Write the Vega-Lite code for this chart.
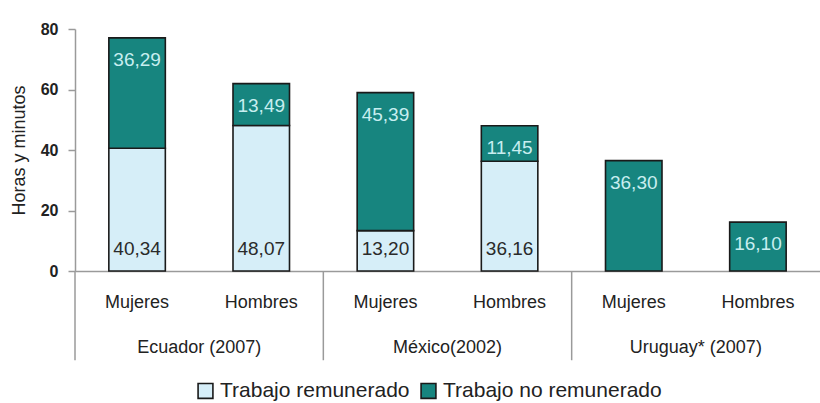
{
  "$schema": "https://vega.github.io/schema/vega-lite/v6.json",
  "width": 745,
  "height": 242,
  "autosize": {"type": "none"},
  "padding": {"left": 75, "top": 29, "right": 0, "bottom": 132},
  "background": "#ffffff",
  "config": {
    "view": {"stroke": null},
    "font": "Liberation Sans",
    "text": {"font": "Liberation Sans"}
  },
  "datasets": {
    "barras": [
      {"pais": "Ecuador (2007)", "sexo": "Mujeres", "barra": "Ecuador (2007)|Mujeres", "tipo": "Trabajo remunerado", "orden": 1, "horas": 40.567, "etiqueta": "40,34"},
      {"pais": "Ecuador (2007)", "sexo": "Mujeres", "barra": "Ecuador (2007)|Mujeres", "tipo": "Trabajo no remunerado", "orden": 2, "horas": 36.483, "etiqueta": "36,29"},
      {"pais": "Ecuador (2007)", "sexo": "Hombres", "barra": "Ecuador (2007)|Hombres", "tipo": "Trabajo remunerado", "orden": 1, "horas": 48.117, "etiqueta": "48,07"},
      {"pais": "Ecuador (2007)", "sexo": "Hombres", "barra": "Ecuador (2007)|Hombres", "tipo": "Trabajo no remunerado", "orden": 2, "horas": 13.817, "etiqueta": "13,49"},
      {"pais": "México(2002)", "sexo": "Mujeres", "barra": "México(2002)|Mujeres", "tipo": "Trabajo remunerado", "orden": 1, "horas": 13.333, "etiqueta": "13,20"},
      {"pais": "México(2002)", "sexo": "Mujeres", "barra": "México(2002)|Mujeres", "tipo": "Trabajo no remunerado", "orden": 2, "horas": 45.65, "etiqueta": "45,39"},
      {"pais": "México(2002)", "sexo": "Hombres", "barra": "México(2002)|Hombres", "tipo": "Trabajo remunerado", "orden": 1, "horas": 36.267, "etiqueta": "36,16"},
      {"pais": "México(2002)", "sexo": "Hombres", "barra": "México(2002)|Hombres", "tipo": "Trabajo no remunerado", "orden": 2, "horas": 11.75, "etiqueta": "11,45"},
      {"pais": "Uruguay* (2007)", "sexo": "Mujeres", "barra": "Uruguay* (2007)|Mujeres", "tipo": "Trabajo no remunerado", "orden": 2, "horas": 36.5, "etiqueta": "36,30"},
      {"pais": "Uruguay* (2007)", "sexo": "Hombres", "barra": "Uruguay* (2007)|Hombres", "tipo": "Trabajo no remunerado", "orden": 2, "horas": 16.167, "etiqueta": "16,10"}
    ],
    "paises": [
      {"pais": "Ecuador (2007)"},
      {"pais": "México(2002)"},
      {"pais": "Uruguay* (2007)"}
    ]
  },
  "layer": [
    {
      "data": {"name": "barras"},
      "transform": [
        {"stack": "horas", "groupby": ["barra"], "sort": [{"field": "orden", "order": "ascending"}], "as": ["v0", "v1"]}
      ],
      "encoding": {
        "x": {
          "field": "barra",
          "type": "nominal",
          "sort": null,
          "scale": {
            "domain": ["Ecuador (2007)|Mujeres", "Ecuador (2007)|Hombres", "México(2002)|Mujeres", "México(2002)|Hombres", "Uruguay* (2007)|Mujeres", "Uruguay* (2007)|Hombres"],
            "paddingInner": 0.545,
            "paddingOuter": 0.2725
          },
          "axis": {
            "title": null,
            "labelAngle": 0,
            "labelExpr": "split(datum.label, '|')[1]",
            "labelFontSize": 18,
            "labelColor": "#222222",
            "labelPadding": 22,
            "ticks": false,
            "domainColor": "#9a9a9a",
            "domainWidth": 1.5
          }
        }
      },
      "layer": [
        {
          "mark": {"type": "bar", "stroke": "#1a1a1a", "strokeWidth": 1.6},
          "encoding": {
            "y": {
              "field": "v0",
              "type": "quantitative",
              "scale": {"domain": [0, 80], "nice": false},
              "axis": {
                "title": "Horas y minutos",
                "titleFontSize": 18,
                "titleFontWeight": "normal",
                "titleColor": "#222222",
                "titlePadding": 12,
                "values": [0, 20, 40, 60, 80],
                "grid": false,
                "labelFontSize": 16,
                "labelFontWeight": "bold",
                "labelColor": "#222222",
                "labelPadding": 10,
                "tickSize": 7,
                "tickColor": "#9a9a9a",
                "tickWidth": 1.5,
                "domainColor": "#9a9a9a",
                "domainWidth": 1.5
              }
            },
            "y2": {"field": "v1"},
            "color": {
              "field": "tipo",
              "type": "nominal",
              "scale": {
                "domain": ["Trabajo remunerado", "Trabajo no remunerado"],
                "range": ["#d6eef8", "#17857f"]
              },
              "legend": {
                "title": null,
                "orient": "none",
                "direction": "horizontal",
                "legendX": 120,
                "legendY": 351,
                "symbolType": "square",
                "symbolSize": 220,
                "symbolStrokeColor": "#1a1a1a",
                "symbolStrokeWidth": 1.6,
                "labelFontSize": 21,
                "labelColor": "#222222",
                "labelOffset": 4,
                "columnPadding": 7,
                "labelLimit": 400
              }
            }
          }
        },
        {
          "transform": [{"filter": "datum.tipo === 'Trabajo remunerado'"}],
          "mark": {"type": "text", "baseline": "middle", "dy": -22, "fontSize": 19, "color": "#2a2a2a"},
          "encoding": {
            "y": {"field": "v0", "type": "quantitative"},
            "text": {"field": "etiqueta"}
          }
        },
        {
          "transform": [{"filter": "datum.tipo === 'Trabajo no remunerado'"}],
          "mark": {"type": "text", "baseline": "middle", "dy": 22, "fontSize": 19, "color": "#c8eef0"},
          "encoding": {
            "y": {"field": "v1", "type": "quantitative"},
            "text": {"field": "etiqueta"}
          }
        }
      ]
    },
    {
      "data": {"name": "paises"},
      "encoding": {
        "x": {
          "field": "pais",
          "type": "nominal",
          "sort": null,
          "scale": {"paddingInner": 0, "paddingOuter": 0},
          "axis": null
        }
      },
      "layer": [
        {
          "mark": {"type": "rule", "color": "#9a9a9a", "strokeWidth": 1.5},
          "encoding": {
            "x": {"field": "pais", "type": "nominal", "sort": null, "bandPosition": 0},
            "y": {"datum": 0, "type": "quantitative"},
            "y2": {"datum": -29.5}
          }
        },
        {
          "mark": {"type": "text", "baseline": "middle", "fontSize": 18, "color": "#222222"},
          "encoding": {
            "y": {"datum": -25.5, "type": "quantitative"},
            "text": {"field": "pais"}
          }
        }
      ]
    }
  ],
  "resolve": {"scale": {"x": "independent"}}
}
